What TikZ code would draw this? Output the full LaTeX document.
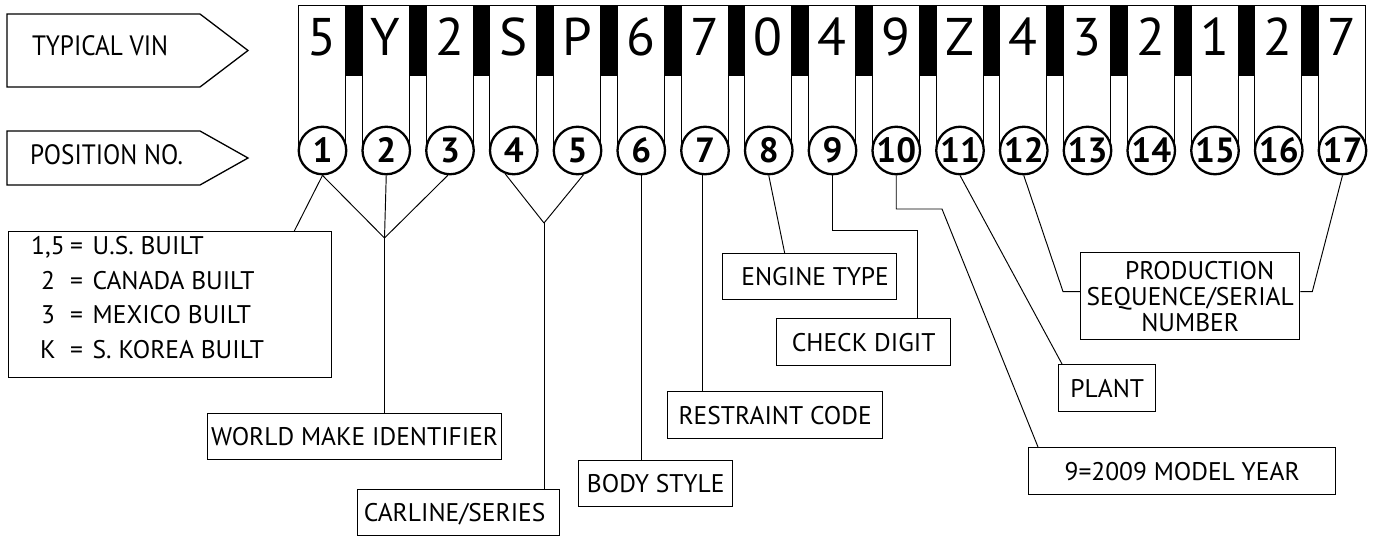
\documentclass[tikz,border=0pt]{standalone}
\usepackage{fontspec}
\setmainfont{PT Sans}
\newfontfamily\narrowfont[FakeStretch=0.9]{PT Sans}
\begin{document}
\begin{tikzpicture}[x=1pt,y=-1pt,
  conn/.style={line width=0.95pt},
  box/.style={draw, line width=1.3pt, inner sep=0pt, anchor=north west,
    font=\fontsize{25.5}{26}\selectfont, text height=17.9pt, text depth=0pt},
  txt/.style={inner sep=0pt, font=\fontsize{25.5}{26}\selectfont, text height=17.9pt, text depth=0pt},
  bigtxt/.style={inner sep=0pt, anchor=west, font=\narrowfont\fontsize{28}{30}\selectfont, text height=19.6pt, text depth=0pt},
  circ/.style={circle, draw, line width=2.3pt, fill=white, minimum size=47.5pt, inner sep=0pt,
    font=\fontsize{35}{35}\selectfont\bfseries, text height=24.5pt, text depth=0pt},
  keyletter/.style={inner sep=0pt, font=\fontsize{53}{53}\selectfont, text height=37pt, text depth=0pt},
  arrowbox/.style={draw, line width=1.3pt}]
\useasboundingbox (0,0) rectangle (1378,538);
\fill[white] (0,0) rectangle (1378,538);

% left arrow boxes
\draw[arrowbox] (7,14) -- (200,14) -- (248,50.5) -- (200,87) -- (7,87) -- cycle;
\node[bigtxt] (tv) at (32,46) {TYPICAL VIN};
\draw[arrowbox] (7,131) -- (200,131) -- (248,158) -- (200,185) -- (7,185) -- cycle;
\node[bigtxt] (pn) at (30,155) {POSITION NO.};

% keys and circles
\foreach \i/\ch in {1/5,2/Y,3/2,4/S,5/P,6/6,7/7,8/0,9/4,10/9,11/Z,12/4,13/3,14/2,15/1,16/2,17/7} {
  \pgfmathsetmacro\L{298.5+63.75*(\i-1)}
  \draw[line width=1pt] (\L,5) rectangle (\L+47,150);
  \ifnum\i<17 \fill (\L+47,5) rectangle (\L+63.75,76); \fi
  \node[keyletter] (k\i) at (\L+23.5,36.5) {\ch};
  \node[circ] (c\i) at (\L+24,150.5) {\i};
}

% label boxes
\node[box, minimum width=323pt, minimum height=146pt] (us) at (8,231) {};
\node[txt] (u1a) at (48,246) {1,5};
\node[txt] (u1b) at (76.5,246) {=};
\node[txt, anchor=west] (u1c) at (92.5,246) {U.S. BUILT};
\node[txt] (u2a) at (48,281) {2};
\node[txt] (u2b) at (76.5,281) {=};
\node[txt, anchor=west] (u2c) at (92.5,281) {CANADA BUILT};
\node[txt] (u3a) at (48,315) {3};
\node[txt] (u3b) at (76.5,315) {=};
\node[txt, anchor=west] (u3c) at (92.5,315) {MEXICO BUILT};
\node[txt] (u4a) at (48,350) {K};
\node[txt] (u4b) at (76.5,350) {=};
\node[txt, anchor=west] (u4c) at (92.5,350) {S. KOREA BUILT};

\node[box, minimum width=294pt, minimum height=46pt] (wm) at (207,413) {WORLD MAKE IDENTIFIER};
\node[box, minimum width=202pt, minimum height=46pt] (cs) at (357,489) {CARLINE/SERIES\hspace*{8pt}};
\node[box, minimum width=154pt, minimum height=46pt] (bs) at (578,460) {BODY STYLE};
\node[box, minimum width=215pt, minimum height=47pt] (rc) at (667,391) {RESTRAINT CODE};
\node[box, minimum width=174pt, minimum height=46pt] (et) at (722,253) {\hspace*{11pt}ENGINE TYPE};
\node[box, minimum width=174pt, minimum height=47pt] (cd) at (776,318) {CHECK DIGIT};
\node[box, minimum width=219pt, minimum height=87pt, align=center, text height=, text depth=,
  font=\fontsize{25.5}{26}\selectfont] (ps) at (1080,252)
  {\hspace*{19pt}PRODUCTION\\SEQUENCE/SERIAL\\NUMBER};
\node[box, minimum width=97pt, minimum height=47pt] (pl) at (1058,364) {PLANT};
\node[box, minimum width=307pt, minimum height=47pt] (my) at (1028,447) {9=2009 MODEL YEAR};

% connectors
\coordinate (j123) at (384.5,238);
\draw[conn] (c1.south) -- ([xshift=-38pt]us.north east);
\draw[conn] (c1.south) -- (j123);
\draw[conn] (c2.south) -- (j123);
\draw[conn] (c3.-95) -- (j123);
\draw[conn] (j123) -- (j123 |- wm.north);

\coordinate (j45) at (544,223);
\draw[conn] (c4.-110) -- (j45);
\draw[conn] (c5.-76) -- (j45);
\draw[conn] (j45) -- (j45 |- cs.north);

\draw[conn] (c6.south) -- (c6.south |- bs.north);
\draw[conn] (c7.-97) -- (c7.-97 |- rc.north);
\draw[conn] (c8.south) -- ([xshift=-25pt]et.north);

\coordinate (k9) at (917,230);
\draw[conn] (c9.south) |- (k9) -- (k9 |- cd.north);

\coordinate (k10) at (942,209);
\draw[conn] (c10.south) |- (k10) -- ([xshift=10pt]my.north west);

\draw[conn] (c11.south) -- ([xshift=4pt]pl.north west);

\draw[conn] (c12.south) -- ([xshift=-17pt,yshift=4.5pt]ps.west) -- ([yshift=4.5pt]ps.west);
\draw[conn] (c17.south) -- ([xshift=12pt,yshift=4.5pt]ps.east) -- ([yshift=4.5pt]ps.east);
\end{tikzpicture}
\end{document}
